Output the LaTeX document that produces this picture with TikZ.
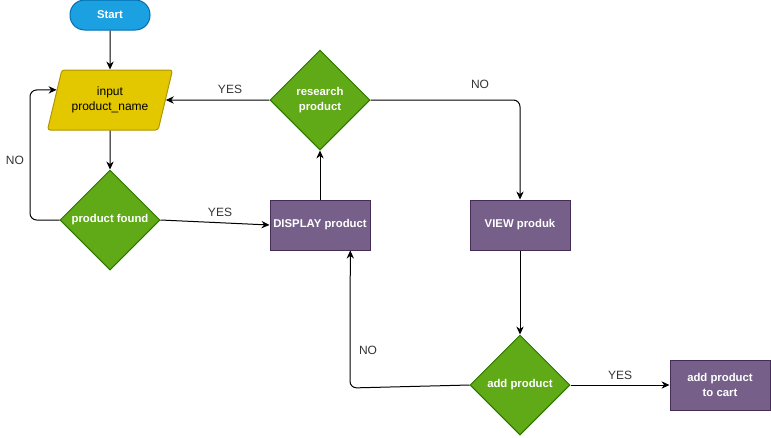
\documentclass[tikz,border=0pt]{standalone}
\usepackage{fontspec}
\setmainfont{Liberation Sans}
\usetikzlibrary{shapes.geometric,arrows.meta,calc}

\definecolor{startblue}{HTML}{1BA1E2}
\definecolor{startedge}{HTML}{006EAF}
\definecolor{inyellow}{HTML}{E3C800}
\definecolor{inedge}{HTML}{B09500}
\definecolor{askgreen}{HTML}{60A917}
\definecolor{askedge}{HTML}{2D7600}
\definecolor{dopurple}{HTML}{76608A}
\definecolor{doedge}{HTML}{432D57}

\begin{document}
\begin{tikzpicture}[x=0.75pt,y=-0.75pt,line width=0.75pt,
    >={Stealth[length=6pt,width=5.5pt]},
    every node/.style={font=\fontsize{9}{11.25}\selectfont},
    terminal/.style={draw=startedge,fill=startblue,text=white,font=\fontsize{8.5}{11.25}\selectfont\bfseries,
      rounded corners=11pt,minimum width=60pt,minimum height=22.5pt},
    inbox/.style={trapezium,trapezium left angle=70,trapezium right angle=110,trapezium stretches=true,
      draw=inedge,fill=inyellow,rounded corners=2pt,minimum width=94.5pt,minimum height=45pt,align=center},
    ask/.style={diamond,draw=askedge,fill=askgreen,text=white,font=\fontsize{8.5}{11.25}\selectfont\bfseries,
      inner sep=0pt,minimum width=75pt,minimum height=75pt,align=center},
    dobox/.style={draw=doedge,fill=dopurple,text=white,font=\fontsize{8.5}{11.25}\selectfont\bfseries,
      inner xsep=1pt,minimum width=75pt,minimum height=37.5pt,align=center},
    lbl/.style={text=black!80}]
  \useasboundingbox (0,0) rectangle (771,437);

  % shapes
  \node[terminal] (start) at (110,15) {Start};
  \node[inbox] (input) at (110,100) {input\\product\_name};
  \node[ask] (found) at (110,220) {product found};
  \node[dobox] (display) at (320,225) {DISPLAY product};
  \node[ask] (research) at (320,100) {research\\product};
  \node[dobox] (view) at (520,225) {VIEW produk};
  \node[ask] (add) at (520,385) {add product};
  \node[dobox] (cart) at (720,385) {add product\\to cart};

  % connectors
  \draw[->] (start) -- (input);
  \draw[->] (input) -- (found);
  \draw[->,rounded corners=5pt] (found.west) -- (30,220) -- (30,90)
    -- ($(input.bottom left corner)!2/3!(input.top left corner)$);
  \draw[->] (found.east) -- (display.west);
  \draw[->] (display) -- (research);
  \draw[->] (research) -- (input);
  \draw[->,rounded corners=5pt] (research.east) -| (view.north);
  \draw[->] (view) -- (add);
  \draw[->,rounded corners=5pt] (add.west) -- (350,388)
    -- ($(display.south)!0.6!(display.south east)$);
  \draw[->] (add) -- (cart);

  % labels
  \node[lbl] (nofound) at (15,160) {NO};
  \node[lbl] (yesfound) at (220,212) {YES};
  \node[lbl] (yesresearch) at (230,89) {YES};
  \node[lbl] (noresearch) at (480,84) {NO};
  \node[lbl] (noadd) at (368,350) {NO};
  \node[lbl] (yesadd) at (620,375) {YES};
\end{tikzpicture}
\end{document}
